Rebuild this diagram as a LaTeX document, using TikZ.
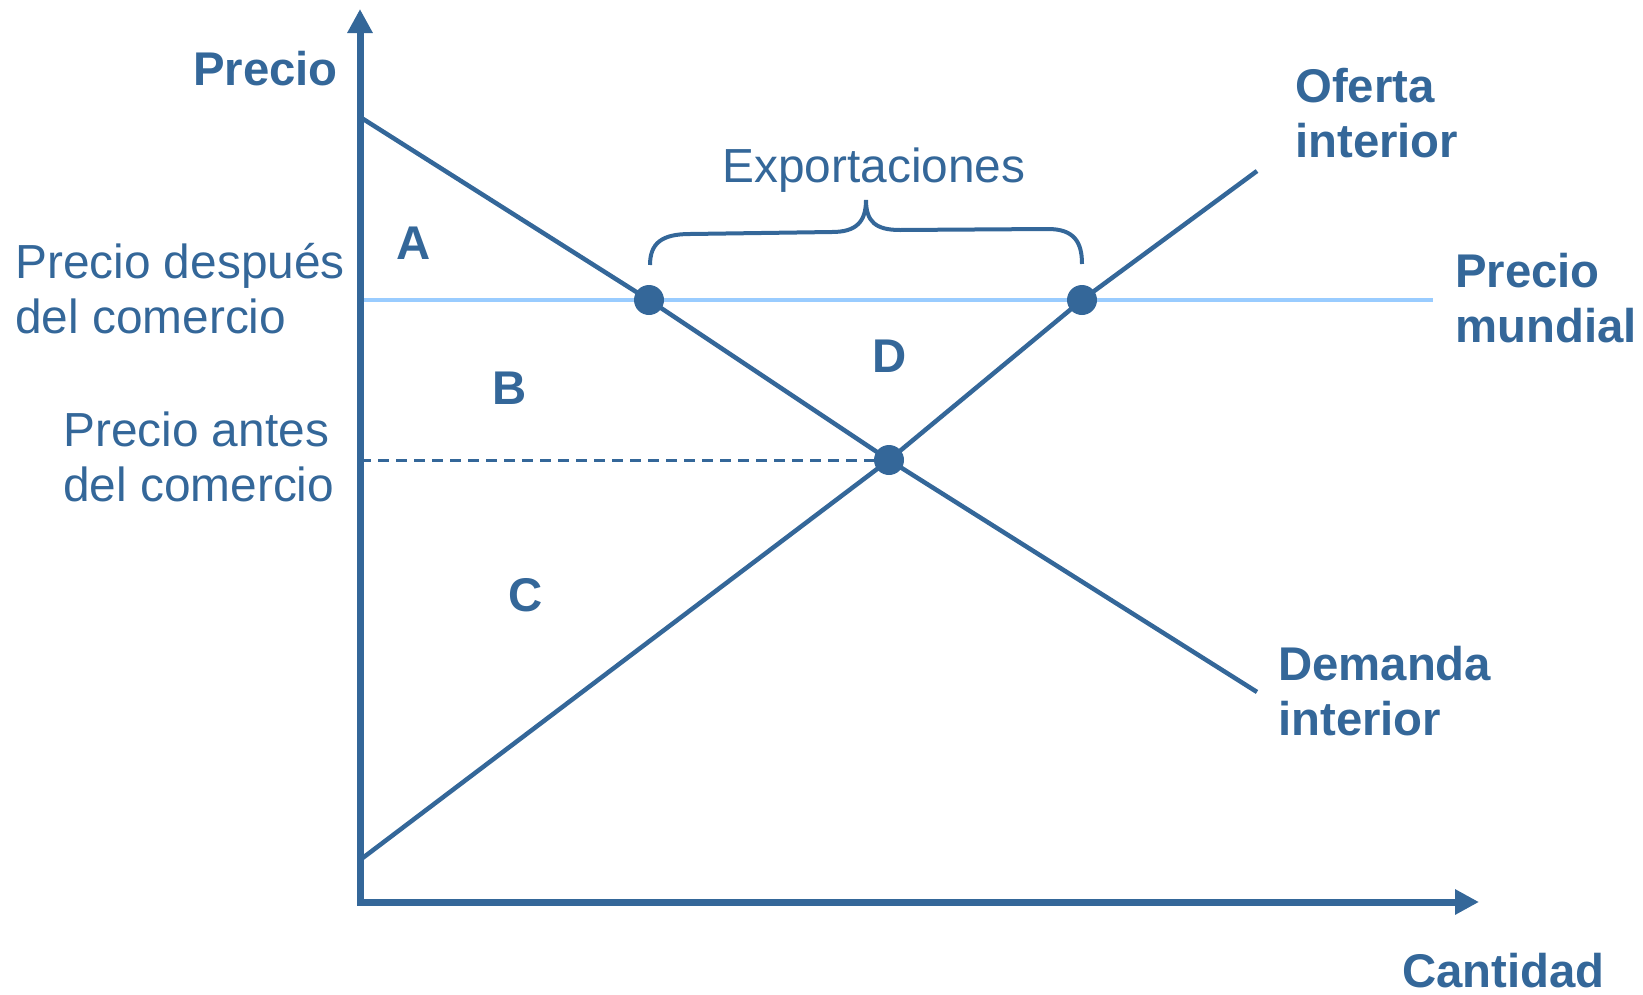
\documentclass[tikz,border=0pt]{standalone}
\usepackage{fontspec}
\setmainfont{Liberation Sans}
\usetikzlibrary{arrows.meta}
\definecolor{mainblue}{RGB}{52,103,153}
\definecolor{lightblue}{RGB}{153,204,255}
\newcommand{\twoln}[2]{\vtop{\hbox{#1}\hbox{#2}}}
\begin{document}
\begin{tikzpicture}[x=1bp,y=-1bp,
  lbl/.style={inner sep=0pt, text=mainblue, font=\fontsize{48}{56}\selectfont},
  blbl/.style={inner sep=0pt, text=mainblue, font=\fontsize{47.5}{56}\selectfont\bfseries},
  axisline/.style={draw=mainblue, line width=7bp, line join=miter},
  curve/.style={draw=mainblue, line width=4.5bp, line join=round},
  pricewl/.style={draw=lightblue, line width=4bp},
  dashline/.style={draw=mainblue, line width=3bp, dash pattern=on 11bp off 7bp},
  dotnode/.style={circle, fill=mainblue, inner sep=0pt, minimum size=30bp},
  bracestyle/.style={draw=mainblue, line width=4bp}]
\useasboundingbox (0,0) rectangle (1643,994);
% key points
\coordinate (O) at (360,902);
\coordinate (ytip) at (360,9);
\coordinate (xtip) at (1479,902);
\coordinate (d1) at (360,117);
\coordinate (d2) at (1257,692);
\coordinate (s1) at (360,860);
\coordinate (s2) at (1257,171);
\coordinate (w1) at (360,300);
\coordinate (w2) at (1433,300);
\coordinate (e1) at (649,300);
\coordinate (e2) at (1082,300);
\coordinate (e0) at (889,460);
% lines
\draw[pricewl] (w1) -- (w2);
\draw[dashline] (O |- e0) -- (e0);
\draw[curve] (d1) -- (e1) -- (e0) -- (d2);
\draw[curve] (s1) -- (e0) -- (e2) -- (s2);
\draw[axisline, {Triangle[length=24bp,width=24bp]}-{Triangle[length=24bp,width=24bp]}] (ytip) -- (O) -- (xtip);
% dots
\node[dotnode] (dotd) at (e1) {};
\node[dotnode] (dots) at (e2) {};
\node[dotnode] (doteq) at (e0) {};
% brace
\draw[bracestyle] (650,265) .. controls (650,243) and (662,234) .. (690,234) -- (832,232)
  .. controls (856,232) and (866,222) .. (866,200)
  .. controls (866,222) and (876,230) .. (900,230) -- (1048,229)
  .. controls (1074,229) and (1082,242) .. (1082,264);
% labels
\node[blbl, anchor=base west] (ylab) at (193,85) {Precio};
\node[lbl, anchor=base west] (after) at (15,278) {\twoln{Precio después}{del comercio}};
\node[lbl, anchor=base west] (before) at (63,446) {\twoln{Precio antes}{del comercio}};
\node[blbl, anchor=base west] (supl) at (1295,102) {\twoln{Oferta}{interior}};
\node[blbl, anchor=base west] (worldl) at (1455,287) {\twoln{Precio}{mundial}};
\node[blbl, anchor=base west] (deml) at (1278,680) {\twoln{Demanda}{interior}};
\node[blbl, anchor=base west] (xlab) at (1402,987) {Cantidad};
\node[lbl, anchor=base] (exp) at (874,182) {Exportaciones};
\node[blbl] (A) at (414,243) {A};
\node[blbl] (B) at (510,388) {B};
\node[blbl] (C) at (526,595) {C};
\node[blbl] (D) at (890,356) {D};
\end{tikzpicture}
\end{document}
